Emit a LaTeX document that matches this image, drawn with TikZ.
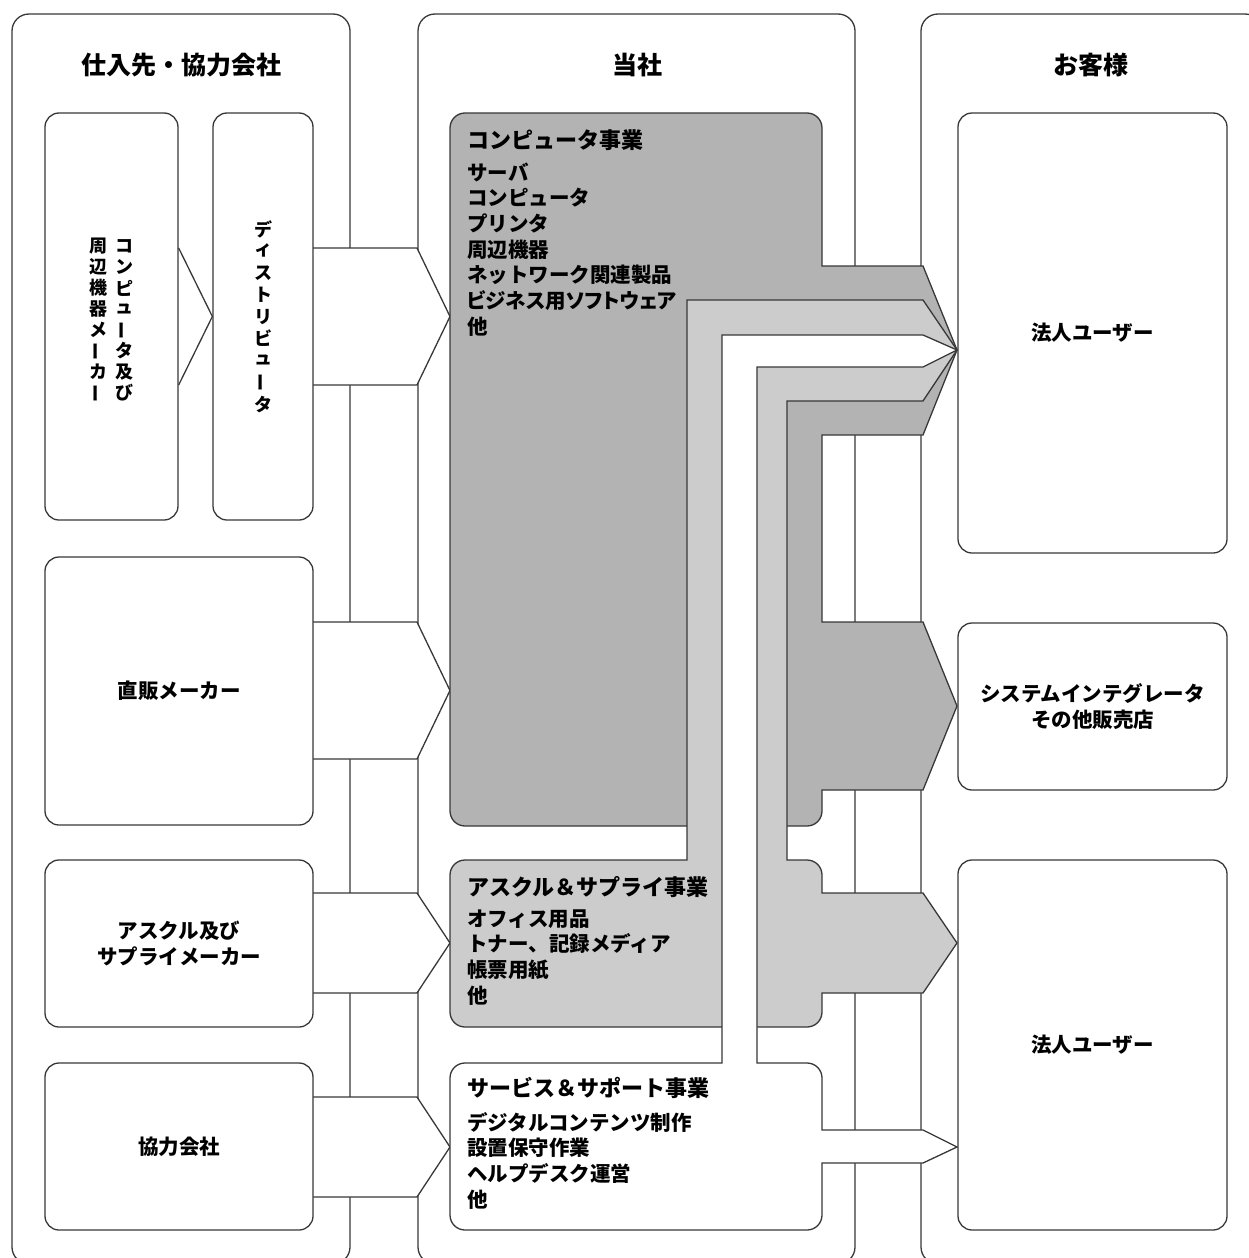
\documentclass[tikz,border=0pt]{standalone}
\usepackage{fontspec}
\setmainfont{Noto Sans CJK JP}
\definecolor{dkgray}{HTML}{B3B3B3}
\definecolor{ltgray}{HTML}{CCCCCC}
\definecolor{edge}{HTML}{383838}
\newcommand\VB{\rotatebox[origin=c]{90}{ー}}
\newcommand\proptext[1]{{\addfontfeature{RawFeature=+palt}#1}}
\begin{document}
\begin{tikzpicture}[x=1pt,y=-1pt,
  frame/.style={draw=edge,line width=1.3pt,rounded corners=17pt},
  box/.style={draw=edge,line width=1.3pt,rounded corners=14pt,fill=white,inner sep=0pt,align=center,
    font=\fontsize{20.5}{26}\selectfont\bfseries},
  flow/.style={draw=edge,line width=1.3pt,line join=miter},
  ttl/.style={font=\fontsize{25}{30}\selectfont\bfseries,inner sep=0pt},
  bizt/.style={font=\fontsize{22}{26}\selectfont\bfseries,inner sep=0pt,anchor=base west},
  item/.style={font=\fontsize{20.5}{26}\selectfont\bfseries,inner sep=0pt,anchor=base west},
  vch/.style={font=\fontsize{18}{21}\selectfont\bfseries,inner sep=0pt}]
\useasboundingbox (0,0) rectangle (1249,1258);
\clip (0,0) rectangle (1249,1258);

% column frames
\draw[frame] (12,14) rectangle (350,1264);
\draw[frame] (418,14) rectangle (855,1264);
\draw[frame] (921,14) rectangle (1262,1264);
\node[ttl] (tL) at (181,65) {仕入先・協力会社};
\node[ttl] (tM) at (637,65) {当社};
\node[ttl] (tR) at (1091,65) {お客様};

% arrows from suppliers into the company
\path[flow,fill=white] (313,248) -- (417,248) -- (450,316.5) -- (417,385) -- (313,385);
\path[flow,fill=white] (313,622) -- (417,622) -- (450,690.5) -- (417,759) -- (313,759);
\path[flow,fill=white] (313,893) -- (417,893) -- (450,943) -- (417,993) -- (313,993);
\path[flow,fill=white] (313,1097) -- (417,1097) -- (450,1147) -- (417,1197) -- (313,1197);

% computer business (dark) with its outflows
\path[flow,fill=dkgray] (465,113) -- (807,113) .. controls (815.3,113) and (822,119.7) .. (822,128)
  -- (822,266) -- (923,266) -- (957,350) -- (923,435) -- (822,435)
  -- (822,622) -- (923,622) -- (957,706) -- (923,790) -- (822,790)
  -- (822,811) .. controls (822,819.3) and (815.3,826) .. (807,826) -- (465,826)
  .. controls (456.7,826) and (450,819.3) .. (450,811) -- (450,128)
  .. controls (450,119.7) and (456.7,113) .. (465,113) -- cycle;

% askul & supply business (light) with its outflows
\path[flow,fill=ltgray] (465,860) -- (687,860) -- (687,300) -- (923,300) -- (957,350)
  -- (923,401) -- (787,401) -- (787,860) -- (807,860)
  .. controls (815.3,860) and (822,866.7) .. (822,875)
  -- (822,893) -- (923,893) -- (957,943) -- (923,993) -- (822,993)
  -- (822,1012) .. controls (822,1020.3) and (815.3,1027) .. (807,1027) -- (465,1027)
  .. controls (456.7,1027) and (450,1020.3) .. (450,1012) -- (450,875)
  .. controls (450,866.7) and (456.7,860) .. (465,860) -- cycle;

% service & support business (white) with its outflows
\path[flow,fill=white] (465,1063) -- (722,1063) -- (722,335) -- (923,335) -- (957,350)
  -- (923,367) -- (757,367) -- (757,1063) -- (807,1063)
  .. controls (815.3,1063) and (822,1069.7) .. (822,1078)
  -- (822,1130) -- (923,1130) -- (957,1147) -- (923,1163) -- (822,1163)
  -- (822,1215) .. controls (822,1223.3) and (815.3,1230) .. (807,1230) -- (465,1230)
  .. controls (456.7,1230) and (450,1223.3) .. (450,1215) -- (450,1078)
  .. controls (450,1069.7) and (456.7,1063) .. (465,1063) -- cycle;

% supplier boxes
\node[box,minimum width=133,minimum height=407] (maker) at (111.5,316.5) {};
\node[box,minimum width=100,minimum height=407] (dist) at (263,316.5) {};
\node[box,minimum width=268,minimum height=268] (direct) at (179,691) {直販メーカー};
\node[box,minimum width=268,minimum height=167] (askulm) at (179,943.5) {アスクル及び\\サプライメーカー};
\node[box,minimum width=268,minimum height=167] (kyoryoku) at (179,1146.5) {協力会社};
\draw[flow] (maker.east |- 0,248) -- (dist.west |- 0,316.5) -- (maker.east |- 0,385);

% customer boxes
\node[box,minimum width=269,minimum height=440] (hojinA) at (1092.5,333) {法人ユーザー};
\node[box,minimum width=269,minimum height=167] (si) at (1092.5,706.5) {システムインテグレータ\\その他販売店};
\node[box,minimum width=269,minimum height=370] (hojinB) at (1092.5,1045) {法人ユーザー};

% vertical texts
\foreach \c [count=\i from 0] in {コ,ン,ピ,ュ,\VB,タ,及,び}
  \node[vch] (mkA\i) at (124,246+\i*21) {\c};
\foreach \c [count=\i from 0] in {周,辺,機,器,メ,\VB,カ,\VB}
  \node[vch] (mkB\i) at (98,246+\i*21) {\c};
\foreach \c [count=\i from 0] in {デ,ィ,ス,ト,リ,ビ,ュ,\VB,タ}
  \node[vch] (ds\i) at (263,229+\i*21.9) {\c};

% business texts
\node[bizt] (compT) at (467,148) {コンピュータ事業};
\foreach \t [count=\i from 0] in {サーバ,コンピュータ,プリンタ,周辺機器,ネットワーク関連製品,\proptext{ビジネス用ソフトウェア},他}
  \node[item] (compI\i) at (467,180+\i*25.7) {\t};
\node[bizt] (askT) at (467,895) {アスクル＆サプライ事業};
\foreach \t [count=\i from 0] in {オフィス用品,トナー、記録メディア,帳票用紙,他}
  \node[item] (askI\i) at (467,926+\i*25.9) {\t};
\node[bizt] (svT) at (467,1096) {サービス＆サポート事業};
\foreach \t [count=\i from 0] in {デジタルコンテンツ制作,設置保守作業,ヘルプデスク運営,他}
  \node[item] (svI\i) at (467,1130+\i*25.7) {\t};
\end{tikzpicture}
\end{document}
